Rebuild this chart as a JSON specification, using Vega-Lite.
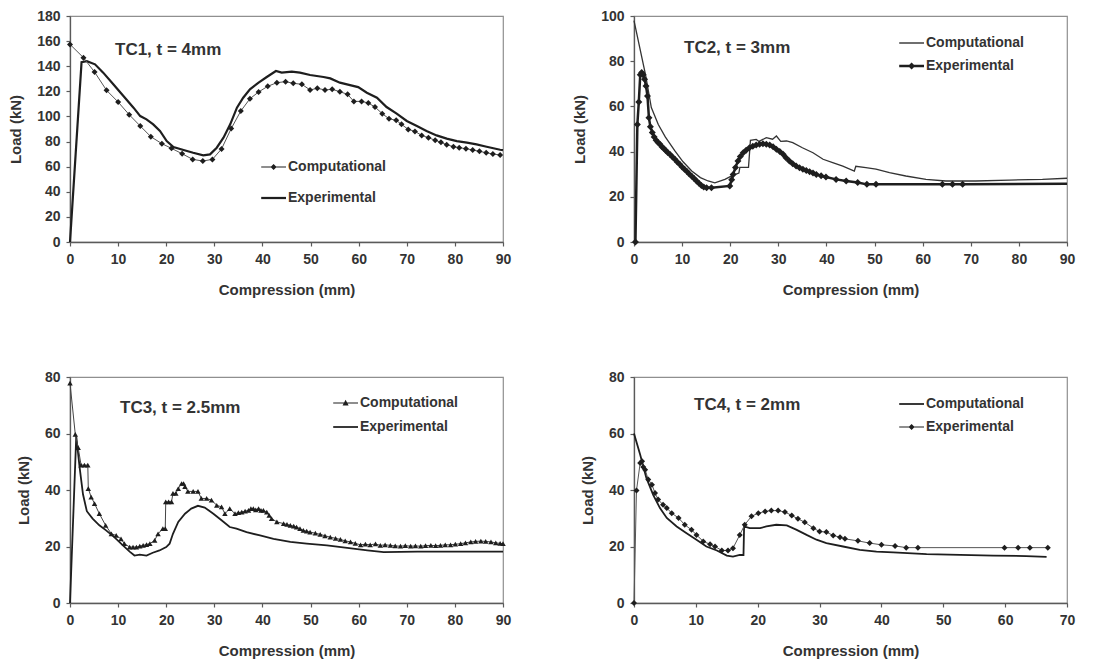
{
  "$schema": "https://vega.github.io/schema/vega-lite/v6.json",
  "background": "white",
  "padding": {"left": 8, "top": 8, "right": 5, "bottom": 5},
  "config": {
    "font": "Liberation Sans",
    "view": {"stroke": "#8f8f8f", "strokeWidth": 1.2},
    "axis": {"grid": false, "domainColor": "#5a5a5a", "domainWidth": 1.3, "tickColor": "#5a5a5a", "tickSize": 4, "tickWidth": 1.2, "labelFont": "Liberation Sans", "labelFontWeight": "bold", "labelFontSize": 14, "labelColor": "#333333", "labelPadding": 6, "labelFlush": false, "titleFont": "Liberation Sans", "titleFontWeight": "bold", "titleFontSize": 15, "titleColor": "#333333"},
    "axisX": {"titlePadding": 16},
    "axisY": {"titlePadding": 13},
    "title": {"font": "Liberation Sans", "fontWeight": "bold", "fontSize": 17, "color": "#333333", "anchor": "start", "frame": "group", "orient": "top", "baseline": "middle"},
    "legend": {"padding": 0, "labelFont": "Liberation Sans", "labelFontWeight": "bold", "labelFontSize": 14, "labelColor": "#333333", "labelOffset": 2, "symbolSize": 256, "symbolStrokeWidth": 0, "symbolFillColor": "#1e1e1e", "symbolOpacity": 1}
  },
  "datasets": {
    "tc1": [
      {"series":"Computational","x":0,"y":157.4},{"series":"Computational","x":2.8,"y":146.8},{"series":"Computational","x":5.1,"y":135.4},{"series":"Computational","x":7.6,"y":120.8},{"series":"Computational","x":10.0,"y":111.5},{"series":"Computational","x":12.3,"y":101.4},{"series":"Computational","x":14.6,"y":92.4},{"series":"Computational","x":16.8,"y":83.9},{"series":"Computational","x":19.1,"y":78.3},{"series":"Computational","x":21.1,"y":74.6},{"series":"Computational","x":23.3,"y":70.3},{"series":"Computational","x":25.5,"y":65.8},{"series":"Computational","x":27.6,"y":64.5},{"series":"Computational","x":29.6,"y":65.8},{"series":"Computational","x":31.5,"y":74.1},{"series":"Computational","x":33.5,"y":90.3},{"series":"Computational","x":35.5,"y":104.3},{"series":"Computational","x":37.4,"y":114.1},{"series":"Computational","x":39.2,"y":119.5},{"series":"Computational","x":41.1,"y":124.0},{"series":"Computational","x":43.0,"y":126.9},{"series":"Computational","x":44.8,"y":127.7},{"series":"Computational","x":46.4,"y":126.4},{"series":"Computational","x":48.2,"y":125.6},{"series":"Computational","x":49.9,"y":121.1},{"series":"Computational","x":51.4,"y":122.4},{"series":"Computational","x":53.0,"y":121.1},{"series":"Computational","x":54.5,"y":121.6},{"series":"Computational","x":56.1,"y":119.7},{"series":"Computational","x":57.7,"y":117.6},{"series":"Computational","x":59.0,"y":112.0},{"series":"Computational","x":60.6,"y":112.0},{"series":"Computational","x":62.0,"y":110.7},{"series":"Computational","x":63.4,"y":107.5},{"series":"Computational","x":64.9,"y":102.2},{"series":"Computational","x":66.3,"y":98.2},{"series":"Computational","x":67.8,"y":96.9},{"series":"Computational","x":68.9,"y":93.7},{"series":"Computational","x":70.3,"y":89.7},{"series":"Computational","x":71.7,"y":88.1},{"series":"Computational","x":73.1,"y":84.9},{"series":"Computational","x":74.5,"y":83.1},{"series":"Computational","x":75.9,"y":81.0},{"series":"Computational","x":77.1,"y":79.4},{"series":"Computational","x":78.3,"y":77.5},{"series":"Computational","x":79.7,"y":75.9},{"series":"Computational","x":80.9,"y":75.1},{"series":"Computational","x":82.3,"y":74.3},{"series":"Computational","x":83.7,"y":73.3},{"series":"Computational","x":85.1,"y":72.2},{"series":"Computational","x":86.5,"y":71.1},{"series":"Computational","x":87.9,"y":70.1},{"series":"Computational","x":89.4,"y":69.3},
      {"series":"Experimental","x":0,"y":0},{"series":"Experimental","x":2.4,"y":143.3},{"series":"Experimental","x":3.5,"y":144},{"series":"Experimental","x":5.2,"y":141.5},{"series":"Experimental","x":6.9,"y":134.9},{"series":"Experimental","x":9.0,"y":125.6},{"series":"Experimental","x":11.1,"y":116.3},{"series":"Experimental","x":13.2,"y":107},{"series":"Experimental","x":14.6,"y":100.3},{"series":"Experimental","x":15.9,"y":97.7},{"series":"Experimental","x":17.3,"y":93.7},{"series":"Experimental","x":18.7,"y":88.4},{"series":"Experimental","x":20.1,"y":80.4},{"series":"Experimental","x":21.5,"y":75.7},{"series":"Experimental","x":23.6,"y":73.3},{"series":"Experimental","x":25.6,"y":71.1},{"series":"Experimental","x":27.7,"y":69.0},{"series":"Experimental","x":29.1,"y":69.8},{"series":"Experimental","x":30.5,"y":75.1},{"series":"Experimental","x":31.9,"y":83.1},{"series":"Experimental","x":33.3,"y":93.7},{"series":"Experimental","x":34.7,"y":107},{"series":"Experimental","x":36.0,"y":114.9},{"series":"Experimental","x":37.4,"y":121.6},{"series":"Experimental","x":39.2,"y":126.9},{"series":"Experimental","x":40.9,"y":131.4},{"series":"Experimental","x":42.8,"y":136.2},{"series":"Experimental","x":44.0,"y":134.9},{"series":"Experimental","x":46.1,"y":135.7},{"series":"Experimental","x":47.8,"y":134.9},{"series":"Experimental","x":49.9,"y":133.0},{"series":"Experimental","x":52.7,"y":131.4},{"series":"Experimental","x":54.1,"y":130.3},{"series":"Experimental","x":56.1,"y":126.9},{"series":"Experimental","x":58.2,"y":125.0},{"series":"Experimental","x":59.9,"y":123.4},{"series":"Experimental","x":61.7,"y":118.9},{"series":"Experimental","x":63.8,"y":114.9},{"series":"Experimental","x":65.8,"y":107.5},{"series":"Experimental","x":67.9,"y":102.2},{"series":"Experimental","x":70.0,"y":96.4},{"series":"Experimental","x":72.1,"y":92.4},{"series":"Experimental","x":74.1,"y":88.4},{"series":"Experimental","x":76.2,"y":84.9},{"series":"Experimental","x":78.3,"y":82.3},{"series":"Experimental","x":80.4,"y":80.4},{"series":"Experimental","x":82.5,"y":79.1},{"series":"Experimental","x":84.5,"y":77.8},{"series":"Experimental","x":86.6,"y":75.9},{"series":"Experimental","x":89.4,"y":73.5},{"series":"Experimental","x":90,"y":73.2}
    ],
    "tc2": [
      {"series":"Computational","x":0,"y":98},{"series":"Computational","x":2.4,"y":74},{"series":"Computational","x":3.6,"y":59.5},{"series":"Computational","x":5.05,"y":52},{"series":"Computational","x":6.5,"y":46.5},{"series":"Computational","x":8.5,"y":40.3},{"series":"Computational","x":10.2,"y":35.5},{"series":"Computational","x":12.0,"y":31.4},{"series":"Computational","x":13.8,"y":28.5},{"series":"Computational","x":15.4,"y":27},{"series":"Computational","x":16.8,"y":26.2},{"series":"Computational","x":18.9,"y":27.7},{"series":"Computational","x":20.5,"y":29.5},{"series":"Computational","x":21.8,"y":30.5},{"series":"Computational","x":22,"y":33},{"series":"Computational","x":23.8,"y":33},{"series":"Computational","x":24.2,"y":45},{"series":"Computational","x":25.4,"y":45.4},{"series":"Computational","x":26,"y":44.5},{"series":"Computational","x":27.5,"y":46.2},{"series":"Computational","x":28.8,"y":45.5},{"series":"Computational","x":29.6,"y":46.9},{"series":"Computational","x":30.5,"y":44.5},{"series":"Computational","x":31.7,"y":44.7},{"series":"Computational","x":33,"y":44},{"series":"Computational","x":35,"y":41.7},{"series":"Computational","x":37.2,"y":39.5},{"series":"Computational","x":39.3,"y":36.6},{"series":"Computational","x":41.3,"y":35.1},{"series":"Computational","x":43.4,"y":33.6},{"series":"Computational","x":45.8,"y":31.4},{"series":"Computational","x":46.1,"y":33.5},{"series":"Computational","x":48.2,"y":32.9},{"series":"Computational","x":50.3,"y":32.2},{"series":"Computational","x":53.1,"y":30.7},{"series":"Computational","x":56.5,"y":29.2},{"series":"Computational","x":60.7,"y":27.7},{"series":"Computational","x":64.8,"y":27},{"series":"Computational","x":71,"y":27},{"series":"Computational","x":78,"y":27.4},{"series":"Computational","x":84.9,"y":27.7},{"series":"Computational","x":90,"y":28.2},
      {"series":"Experimental","x":0.3,"y":0},{"series":"Experimental","x":0.7,"y":52},{"series":"Experimental","x":1.0,"y":62},{"series":"Experimental","x":1.3,"y":74},{"series":"Experimental","x":1.6,"y":75},{"series":"Experimental","x":1.9,"y":74},{"series":"Experimental","x":2.2,"y":72},{"series":"Experimental","x":2.5,"y":69},{"series":"Experimental","x":2.8,"y":64.6},{"series":"Experimental","x":3.1,"y":55},{"series":"Experimental","x":3.4,"y":51},{"series":"Experimental","x":3.8,"y":48.5},{"series":"Experimental","x":4.2,"y":46.5},{"series":"Experimental","x":4.6,"y":45},{"series":"Experimental","x":5.0,"y":44},{"series":"Experimental","x":5.4,"y":43.2},{"series":"Experimental","x":5.8,"y":42.2},{"series":"Experimental","x":6.2,"y":41.4},{"series":"Experimental","x":6.6,"y":40.5},{"series":"Experimental","x":7.0,"y":39.6},{"series":"Experimental","x":7.5,"y":38.7},{"series":"Experimental","x":8.0,"y":37.6},{"series":"Experimental","x":8.5,"y":36.6},{"series":"Experimental","x":9.0,"y":35.4},{"series":"Experimental","x":9.5,"y":34.4},{"series":"Experimental","x":10.0,"y":33.2},{"series":"Experimental","x":10.5,"y":32.2},{"series":"Experimental","x":11.0,"y":31.2},{"series":"Experimental","x":11.5,"y":30.1},{"series":"Experimental","x":12.0,"y":29.1},{"series":"Experimental","x":12.5,"y":28.1},{"series":"Experimental","x":13.0,"y":27},{"series":"Experimental","x":13.5,"y":26},{"series":"Experimental","x":14.0,"y":25},{"series":"Experimental","x":14.5,"y":24.3},{"series":"Experimental","x":15.1,"y":24.0},{"series":"Experimental","x":16.1,"y":24.0},{"series":"Experimental","x":19.9,"y":24.8},{"series":"Experimental","x":20.3,"y":27.5},{"series":"Experimental","x":20.6,"y":29.9},{"series":"Experimental","x":21.1,"y":33},{"series":"Experimental","x":21.6,"y":35.8},{"series":"Experimental","x":22.1,"y":37.8},{"series":"Experimental","x":22.7,"y":39.5},{"series":"Experimental","x":23.3,"y":40.6},{"series":"Experimental","x":24,"y":41.7},{"series":"Experimental","x":24.7,"y":42.4},{"series":"Experimental","x":25.4,"y":42.9},{"series":"Experimental","x":26.1,"y":43.3},{"series":"Experimental","x":26.8,"y":43.5},{"series":"Experimental","x":27.5,"y":43.3},{"series":"Experimental","x":28.2,"y":42.9},{"series":"Experimental","x":28.9,"y":42.1},{"series":"Experimental","x":29.6,"y":41.0},{"series":"Experimental","x":30.3,"y":40},{"series":"Experimental","x":31,"y":38.8},{"series":"Experimental","x":31.6,"y":37.3},{"series":"Experimental","x":32.3,"y":35.8},{"series":"Experimental","x":33,"y":34.6},{"series":"Experimental","x":33.7,"y":33.6},{"series":"Experimental","x":34.4,"y":32.8},{"series":"Experimental","x":35.1,"y":32.2},{"series":"Experimental","x":35.8,"y":31.6},{"series":"Experimental","x":36.5,"y":31.1},{"series":"Experimental","x":37.2,"y":30.5},{"series":"Experimental","x":37.9,"y":29.9},{"series":"Experimental","x":38.9,"y":29.3},{"series":"Experimental","x":39.9,"y":28.8},{"series":"Experimental","x":42,"y":27.7},{"series":"Experimental","x":44.1,"y":27.0},{"series":"Experimental","x":46.5,"y":26.3},{"series":"Experimental","x":48.4,"y":25.5},{"series":"Experimental","x":50.3,"y":25.5},{"series":"Experimental","x":64.1,"y":25.5},{"series":"Experimental","x":66.2,"y":25.5},{"series":"Experimental","x":68.3,"y":25.5},{"series":"Experimental","x":90,"y":25.8}
    ],
    "tc3": [
      {"series":"Computational","x":0,"y":77.8},{"series":"Computational","x":1.1,"y":59.7},{"series":"Computational","x":1.7,"y":55},{"series":"Computational","x":2.3,"y":48.8},{"series":"Computational","x":3.0,"y":48.8},{"series":"Computational","x":3.7,"y":48.8},{"series":"Computational","x":3.8,"y":40.5},{"series":"Computational","x":4.4,"y":37.5},{"series":"Computational","x":5.1,"y":35.2},{"series":"Computational","x":6.1,"y":31.6},{"series":"Computational","x":7.4,"y":27.5},{"series":"Computational","x":8.6,"y":24.5},{"series":"Computational","x":9.6,"y":23.9},{"series":"Computational","x":10.6,"y":22.7},{"series":"Computational","x":11.3,"y":21.0},{"series":"Computational","x":12.4,"y":19.8},{"series":"Computational","x":13.1,"y":19.8},{"series":"Computational","x":13.8,"y":19.8},{"series":"Computational","x":14.5,"y":20.1},{"series":"Computational","x":15.2,"y":20.4},{"series":"Computational","x":15.9,"y":20.7},{"series":"Computational","x":16.6,"y":21.0},{"series":"Computational","x":17.6,"y":22.2},{"series":"Computational","x":18.3,"y":24.5},{"series":"Computational","x":19.3,"y":26.3},{"series":"Computational","x":19.8,"y":26.3},{"series":"Computational","x":19.9,"y":35.8},{"series":"Computational","x":20.5,"y":35.8},{"series":"Computational","x":21.1,"y":35.8},{"series":"Computational","x":21.4,"y":38.8},{"series":"Computational","x":22.0,"y":38.8},{"series":"Computational","x":22.5,"y":40.5},{"series":"Computational","x":23.2,"y":42.3},{"series":"Computational","x":23.6,"y":42.3},{"series":"Computational","x":23.9,"y":41.2},{"series":"Computational","x":24.5,"y":39.5},{"series":"Computational","x":25.6,"y":39.5},{"series":"Computational","x":26.6,"y":39.5},{"series":"Computational","x":27.3,"y":37},{"series":"Computational","x":28.4,"y":37},{"series":"Computational","x":29.4,"y":36.4},{"series":"Computational","x":30.5,"y":34.6},{"series":"Computational","x":31.5,"y":34.0},{"series":"Computational","x":32.2,"y":31.6},{"series":"Computational","x":33.2,"y":33.4},{"series":"Computational","x":34.3,"y":31.6},{"series":"Computational","x":35.0,"y":32.0},{"series":"Computational","x":35.7,"y":32.2},{"series":"Computational","x":36.4,"y":32.5},{"series":"Computational","x":37.1,"y":32.8},{"series":"Computational","x":37.6,"y":33.4},{"series":"Computational","x":38.1,"y":33.4},{"series":"Computational","x":38.6,"y":33.0},{"series":"Computational","x":39.2,"y":33.4},{"series":"Computational","x":39.7,"y":32.8},{"series":"Computational","x":40.2,"y":32.8},{"series":"Computational","x":40.9,"y":32.2},{"series":"Computational","x":41.4,"y":31.0},{"series":"Computational","x":41.9,"y":29.9},{"series":"Computational","x":43,"y":28.7},{"series":"Computational","x":44.4,"y":28.1},{"series":"Computational","x":45.1,"y":27.8},{"series":"Computational","x":45.8,"y":27.5},{"series":"Computational","x":46.5,"y":27.2},{"series":"Computational","x":47.1,"y":26.9},{"series":"Computational","x":47.8,"y":26.3},{"series":"Computational","x":48.5,"y":25.7},{"series":"Computational","x":49.2,"y":25.4},{"series":"Computational","x":49.9,"y":25.1},{"series":"Computational","x":51,"y":24.7},{"series":"Computational","x":52,"y":24.3},{"series":"Computational","x":53,"y":23.8},{"series":"Computational","x":54.1,"y":23.3},{"series":"Computational","x":55.2,"y":22.9},{"series":"Computational","x":56.2,"y":22.5},{"series":"Computational","x":57.2,"y":22.0},{"series":"Computational","x":58.3,"y":21.6},{"series":"Computational","x":59.3,"y":21.1},{"series":"Computational","x":60.4,"y":20.6},{"series":"Computational","x":61.4,"y":20.8},{"series":"Computational","x":62.4,"y":20.6},{"series":"Computational","x":63.5,"y":20.9},{"series":"Computational","x":64.5,"y":20.4},{"series":"Computational","x":65.5,"y":20.6},{"series":"Computational","x":66.6,"y":20.4},{"series":"Computational","x":67.6,"y":20.2},{"series":"Computational","x":68.7,"y":20.1},{"series":"Computational","x":69.7,"y":20.3},{"series":"Computational","x":70.8,"y":20.1},{"series":"Computational","x":71.8,"y":20.2},{"series":"Computational","x":72.9,"y":20.1},{"series":"Computational","x":73.9,"y":20.3},{"series":"Computational","x":75,"y":20.4},{"series":"Computational","x":76,"y":20.3},{"series":"Computational","x":77,"y":20.4},{"series":"Computational","x":78,"y":20.6},{"series":"Computational","x":79.1,"y":20.6},{"series":"Computational","x":80.1,"y":20.8},{"series":"Computational","x":81.2,"y":21.0},{"series":"Computational","x":82.2,"y":21.3},{"series":"Computational","x":83.3,"y":21.6},{"series":"Computational","x":84.3,"y":21.8},{"series":"Computational","x":85.4,"y":21.9},{"series":"Computational","x":86.4,"y":21.8},{"series":"Computational","x":87.5,"y":21.6},{"series":"Computational","x":88.5,"y":21.3},{"series":"Computational","x":89.4,"y":21.1},{"series":"Computational","x":90,"y":21.0},
      {"series":"Experimental","x":0,"y":0},{"series":"Experimental","x":1.3,"y":59},{"series":"Experimental","x":2.0,"y":48},{"series":"Experimental","x":2.7,"y":38.5},{"series":"Experimental","x":3.5,"y":32.5},{"series":"Experimental","x":4.7,"y":29.9},{"series":"Experimental","x":6.1,"y":27.5},{"series":"Experimental","x":7.5,"y":25.7},{"series":"Experimental","x":9.2,"y":23.3},{"series":"Experimental","x":11,"y":20.4},{"series":"Experimental","x":12.4,"y":18.2},{"series":"Experimental","x":13.4,"y":16.8},{"series":"Experimental","x":14.5,"y":17.1},{"series":"Experimental","x":15.9,"y":16.8},{"series":"Experimental","x":17.2,"y":17.8},{"series":"Experimental","x":18.6,"y":18.6},{"series":"Experimental","x":20,"y":19.8},{"series":"Experimental","x":20.7,"y":21},{"series":"Experimental","x":21.4,"y":24.5},{"series":"Experimental","x":22.5,"y":28.7},{"series":"Experimental","x":23.9,"y":31.6},{"series":"Experimental","x":25.2,"y":33.4},{"series":"Experimental","x":26.6,"y":34.4},{"series":"Experimental","x":28,"y":33.8},{"series":"Experimental","x":29.8,"y":31.6},{"series":"Experimental","x":31.5,"y":29.3},{"series":"Experimental","x":33.2,"y":26.9},{"series":"Experimental","x":34.6,"y":26.3},{"series":"Experimental","x":36.7,"y":25.1},{"series":"Experimental","x":39.5,"y":23.9},{"series":"Experimental","x":42.3,"y":22.7},{"series":"Experimental","x":45.8,"y":21.6},{"series":"Experimental","x":49.2,"y":21.0},{"series":"Experimental","x":53.4,"y":20.4},{"series":"Experimental","x":57.6,"y":19.5},{"series":"Experimental","x":61.8,"y":18.6},{"series":"Experimental","x":65.2,"y":18.0},{"series":"Experimental","x":72.2,"y":18.2},{"series":"Experimental","x":79.1,"y":18.2},{"series":"Experimental","x":90,"y":18.2}
    ],
    "tc4": [
      {"series":"Computational","x":0,"y":60},{"series":"Computational","x":1,"y":52.5},{"series":"Computational","x":2,"y":44.3},{"series":"Computational","x":3.1,"y":38.3},{"series":"Computational","x":4.2,"y":33.6},{"series":"Computational","x":5.3,"y":30.1},{"series":"Computational","x":6.9,"y":27.1},{"series":"Computational","x":8.5,"y":24.7},{"series":"Computational","x":10.1,"y":22.4},{"series":"Computational","x":11.7,"y":20.0},{"series":"Computational","x":13.4,"y":18.6},{"series":"Computational","x":15,"y":16.8},{"series":"Computational","x":16.0,"y":16.4},{"series":"Computational","x":17.1,"y":17.0},{"series":"Computational","x":17.7,"y":17.0},{"series":"Computational","x":17.8,"y":27.1},{"series":"Computational","x":18.7,"y":26.5},{"series":"Computational","x":20.4,"y":26.5},{"series":"Computational","x":21.4,"y":27.1},{"series":"Computational","x":23,"y":27.7},{"series":"Computational","x":24.7,"y":27.5},{"series":"Computational","x":26.3,"y":25.9},{"series":"Computational","x":27.9,"y":24.1},{"series":"Computational","x":29.5,"y":22.4},{"series":"Computational","x":31.1,"y":21.2},{"series":"Computational","x":33.8,"y":20.0},{"series":"Computational","x":36.5,"y":18.8},{"series":"Computational","x":39.2,"y":18.2},{"series":"Computational","x":41.9,"y":17.9},{"series":"Computational","x":47.3,"y":17.3},{"series":"Computational","x":52.7,"y":17.0},{"series":"Computational","x":58.1,"y":16.8},{"series":"Computational","x":63.4,"y":16.6},{"series":"Computational","x":66.7,"y":16.3},
      {"series":"Experimental","x":0,"y":0},{"series":"Experimental","x":0.4,"y":39.8},{"series":"Experimental","x":1.0,"y":49.6},{"series":"Experimental","x":1.3,"y":50.2},{"series":"Experimental","x":1.5,"y":48.1},{"series":"Experimental","x":1.8,"y":47.2},{"series":"Experimental","x":2.3,"y":43.7},{"series":"Experimental","x":2.9,"y":41.9},{"series":"Experimental","x":3.4,"y":38.9},{"series":"Experimental","x":3.9,"y":36.6},{"series":"Experimental","x":4.7,"y":34.8},{"series":"Experimental","x":5.3,"y":33.6},{"series":"Experimental","x":6.1,"y":31.8},{"series":"Experimental","x":7.2,"y":30.1},{"series":"Experimental","x":8.2,"y":27.7},{"series":"Experimental","x":9.3,"y":25.9},{"series":"Experimental","x":10.1,"y":24.1},{"series":"Experimental","x":11.2,"y":21.8},{"series":"Experimental","x":12.3,"y":20.8},{"series":"Experimental","x":13.1,"y":20.0},{"series":"Experimental","x":14.2,"y":18.6},{"series":"Experimental","x":15.2,"y":18.6},{"series":"Experimental","x":16,"y":19.4},{"series":"Experimental","x":17.1,"y":24.1},{"series":"Experimental","x":17.9,"y":27.7},{"series":"Experimental","x":19,"y":30.7},{"series":"Experimental","x":20.1,"y":31.8},{"series":"Experimental","x":21.2,"y":32.4},{"series":"Experimental","x":22.2,"y":32.7},{"series":"Experimental","x":23.3,"y":32.7},{"series":"Experimental","x":24.4,"y":32.2},{"series":"Experimental","x":25.5,"y":31.0},{"series":"Experimental","x":26.5,"y":29.8},{"series":"Experimental","x":27.6,"y":28.6},{"series":"Experimental","x":29,"y":26.5},{"series":"Experimental","x":30,"y":25.3},{"series":"Experimental","x":31.1,"y":25.1},{"series":"Experimental","x":32.2,"y":23.9},{"series":"Experimental","x":33.3,"y":23.3},{"series":"Experimental","x":34.1,"y":22.7},{"series":"Experimental","x":36.2,"y":22.0},{"series":"Experimental","x":38.1,"y":21.2},{"series":"Experimental","x":40,"y":20.6},{"series":"Experimental","x":42.2,"y":20.2},{"series":"Experimental","x":44,"y":19.6},{"series":"Experimental","x":45.9,"y":19.6},{"series":"Experimental","x":59.9,"y":19.6},{"series":"Experimental","x":62.1,"y":19.6},{"series":"Experimental","x":64,"y":19.6},{"series":"Experimental","x":66.9,"y":19.6}
    ]
  },
  "columns": 2,
  "bounds": "flush",
  "spacing": {"row": 135, "column": 131},
  "resolve": {"scale": {"shape": "independent"}, "legend": {"shape": "independent"}},
  "concat": [
    {
      "width": 433, "height": 226,
      "title": {"text": "TC1, t = 4mm", "offset": -50, "dx": 45},
      "data": {"name": "tc1"},
      "encoding": {
        "x": {"field": "x", "type": "quantitative", "scale": {"domain": [0, 90], "nice": false}, "axis": {"values": [0,10,20,30,40,50,60,70,80,90], "title": "Compression (mm)"}},
        "y": {"field": "y", "type": "quantitative", "scale": {"domain": [0, 180], "nice": false}, "axis": {"values": [0,20,40,60,80,100,120,140,160,180], "title": "Load (kN)"}}
      },
      "layer": [
        {"transform": [{"filter": "datum.series === 'Experimental'"}], "mark": {"type": "line", "color": "#1e1e1e", "strokeWidth": 2.2}, "encoding": {}},
        {"transform": [{"filter": "datum.series === 'Computational'"}], "mark": {"type": "line", "color": "#555555", "strokeWidth": 1}, "encoding": {}},
        {"transform": [{"filter": "datum.series === 'Computational'"}], "mark": {"type": "point", "shape": "diamond", "filled": true, "color": "#1e1e1e", "size": 36, "opacity": 1}},
        {"transform": [{"filter": "datum.x > 1000"}], "mark": {"type": "point", "filled": true, "color": "#1e1e1e", "opacity": 1},
         "encoding": {"shape": {"field": "series", "type": "nominal", "scale": {"domain": ["Computational", "Experimental"], "range": ["M-2.1,-0.065L1,-0.065L1,0.065L-2.1,0.065ZM-0.55,-0.38L-0.17,0L-0.55,0.38L-0.93,0Z", "M-2.1,-0.14L1,-0.14L1,0.14L-2.1,0.14Z"]}, "legend": {"title": null, "orient": "none", "legendX": 200, "legendY": 143, "rowPadding": 16, "encode": {"symbols": {"fill": {"value": "#1e1e1e"}, "opacity": {"value": 1}}}}}}}
      ]
    },
    {
      "width": 433, "height": 226,
      "title": {"text": "TC2, t = 3mm", "offset": -48, "dx": 50},
      "data": {"name": "tc2"},
      "encoding": {
        "x": {"field": "x", "type": "quantitative", "scale": {"domain": [0, 90], "nice": false}, "axis": {"values": [0,10,20,30,40,50,60,70,80,90], "title": "Compression (mm)"}},
        "y": {"field": "y", "type": "quantitative", "scale": {"domain": [0, 100], "nice": false}, "axis": {"values": [0,20,40,60,80,100], "title": "Load (kN)"}}
      },
      "layer": [
        {"transform": [{"filter": "datum.series === 'Computational'"}], "mark": {"type": "line", "color": "#333333", "strokeWidth": 1.3}, "encoding": {}},
        {"transform": [{"filter": "datum.series === 'Experimental'"}], "mark": {"type": "line", "color": "#1e1e1e", "strokeWidth": 2.5}, "encoding": {}},
        {"transform": [{"filter": "datum.series === 'Experimental' && datum.x < 89"}], "mark": {"type": "point", "shape": "diamond", "filled": true, "color": "#1e1e1e", "size": 49, "opacity": 1}},
        {"transform": [{"filter": "datum.x > 1000"}], "mark": {"type": "point", "filled": true, "color": "#1e1e1e", "opacity": 1},
         "encoding": {"shape": {"field": "series", "type": "nominal", "scale": {"domain": ["Computational", "Experimental"], "range": ["M-2.1,-0.08L1,-0.08L1,0.08L-2.1,0.08Z", "M-2.1,-0.16L1,-0.16L1,0.16L-2.1,0.16ZM-0.55,-0.45L-0.1,0L-0.55,0.45L-1,0Z"]}, "legend": {"title": null, "orient": "none", "legendX": 274, "legendY": 19, "rowPadding": 8, "encode": {"symbols": {"fill": {"value": "#1e1e1e"}, "opacity": {"value": 1}}}}}}}
      ]
    },
    {
      "width": 433, "height": 226,
      "title": {"text": "TC3, t = 2.5mm", "offset": -47, "dx": 50},
      "data": {"name": "tc3"},
      "encoding": {
        "x": {"field": "x", "type": "quantitative", "scale": {"domain": [0, 90], "nice": false}, "axis": {"values": [0,10,20,30,40,50,60,70,80,90], "title": "Compression (mm)"}},
        "y": {"field": "y", "type": "quantitative", "scale": {"domain": [0, 80], "nice": false}, "axis": {"values": [0,20,40,60,80], "title": "Load (kN)"}}
      },
      "layer": [
        {"transform": [{"filter": "datum.series === 'Experimental'"}], "mark": {"type": "line", "color": "#1e1e1e", "strokeWidth": 1.8}, "encoding": {}},
        {"transform": [{"filter": "datum.series === 'Computational'"}], "mark": {"type": "line", "color": "#444444", "strokeWidth": 1}, "encoding": {}},
        {"transform": [{"filter": "datum.series === 'Computational'"}], "mark": {"type": "point", "shape": "triangle-up", "filled": true, "color": "#1e1e1e", "size": 30, "opacity": 1}},
        {"transform": [{"filter": "datum.x > 1000"}], "mark": {"type": "point", "filled": true, "color": "#1e1e1e", "opacity": 1},
         "encoding": {"shape": {"field": "series", "type": "nominal", "scale": {"domain": ["Computational", "Experimental"], "range": ["M-2.1,-0.065L1,-0.065L1,0.065L-2.1,0.065ZM-0.55,-0.4L-0.17,0.3L-0.93,0.3Z", "M-2.1,-0.11L1,-0.11L1,0.11L-2.1,0.11Z"]}, "legend": {"title": null, "orient": "none", "legendX": 272, "legendY": 18, "rowPadding": 9, "encode": {"symbols": {"fill": {"value": "#1e1e1e"}, "opacity": {"value": 1}}}}}}}
      ]
    },
    {
      "width": 433, "height": 226,
      "title": {"text": "TC4, t = 2mm", "offset": -44, "dx": 60},
      "data": {"name": "tc4"},
      "encoding": {
        "x": {"field": "x", "type": "quantitative", "scale": {"domain": [0, 70], "nice": false}, "axis": {"values": [0,10,20,30,40,50,60,70], "title": "Compression (mm)"}},
        "y": {"field": "y", "type": "quantitative", "scale": {"domain": [0, 80], "nice": false}, "axis": {"values": [0,20,40,60,80], "title": "Load (kN)"}}
      },
      "layer": [
        {"transform": [{"filter": "datum.series === 'Computational'"}], "mark": {"type": "line", "color": "#1e1e1e", "strokeWidth": 1.8}, "encoding": {}},
        {"transform": [{"filter": "datum.series === 'Experimental'"}], "mark": {"type": "line", "color": "#555555", "strokeWidth": 1}, "encoding": {}},
        {"transform": [{"filter": "datum.series === 'Experimental'"}], "mark": {"type": "point", "shape": "diamond", "filled": true, "color": "#1e1e1e", "size": 36, "opacity": 1}},
        {"transform": [{"filter": "datum.x > 1000"}], "mark": {"type": "point", "filled": true, "color": "#1e1e1e", "opacity": 1},
         "encoding": {"shape": {"field": "series", "type": "nominal", "scale": {"domain": ["Computational", "Experimental"], "range": ["M-2.1,-0.11L1,-0.11L1,0.11L-2.1,0.11Z", "M-2.1,-0.065L1,-0.065L1,0.065L-2.1,0.065ZM-0.55,-0.38L-0.17,0L-0.55,0.38L-0.93,0Z"]}, "legend": {"title": null, "orient": "none", "legendX": 274, "legendY": 19, "rowPadding": 8, "encode": {"symbols": {"fill": {"value": "#1e1e1e"}, "opacity": {"value": 1}}}}}}}
      ]
    }
  ]
}
